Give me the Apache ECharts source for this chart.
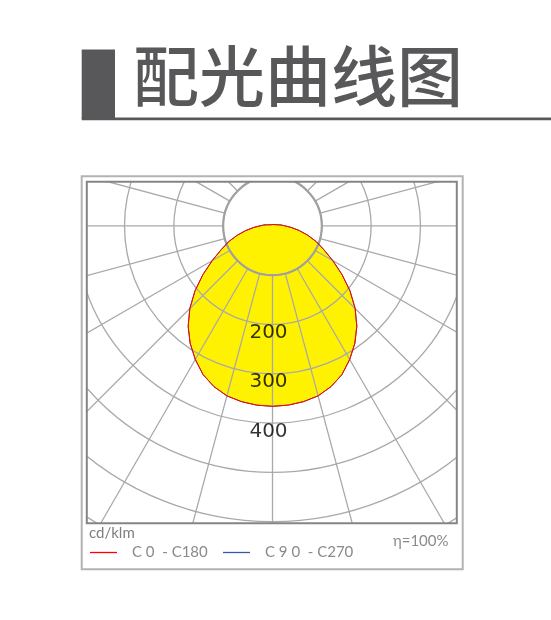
<!DOCTYPE html>
<html>
<head>
<meta charset="utf-8">
<script src="https://cdn.jsdelivr.net/npm/echarts@6/dist/echarts.min.js"></script>
<style>
html,body{margin:0;padding:0;background:#ffffff;}
#chart{width:551px;height:620px;}
</style>
</head>
<body>
<div id="chart"></div>
<script>
// ---- data ----
const gammaAngles = [0,5,10,15,20,25,30,35,40,45,50,55,60,65,70,75,80,85,90,95,100,105,110,115,120,125,130,135,140,145,150,155,160,165,170,175,180];
// luminous intensity, cd/klm, C0-C180 plane
const intensityC0 = [366,365,362,357,347,333,313,291,266,237,205,172,141,115,95,74,55,38,25,18,12,8,6,5,4,4,3,3,3,3,3,3,3,3,3,3,3];
// luminous intensity, cd/klm, C90-C270 plane (coincides with C0-C180)
const intensityC90 = [366,365,362,357,347,333,313,291,266,237,205,172,141,115,95,74,55,38,25,18,12,8,6,5,4,4,3,3,3,3,3,3,3,3,3,3,3];
const ringLabels = [200,300,400];
const seriesNames = ['C 0  - C180', 'C 9 0  - C270'];
const titleText = '配光曲线图';
const unitText = 'cd/klm';
const effText = 'η=100%';

// full loop: left half (C180 / C270) at polar angle gamma, right half (C0 / C90) at 360-gamma
function loop(vals){
  const pts = [];
  for (let i = 0; i < gammaAngles.length; i++) pts.push([vals[i], gammaAngles[i]]);
  for (let i = gammaAngles.length - 2; i >= 0; i--) pts.push([vals[i], 360 - gammaAngles[i]]);
  return pts;
}

const CX = 272.5, CY = 225.8, RMAX = 394.6, RIN = 49.33;
const FL = 86.8, FT = 181.8, FR = 456.8, FB = 523.3;
const gridColor = '#a9a9a9';

const chart = echarts.init(document.getElementById('chart'), null, {renderer:'canvas'});
chart.setOption({
  animation: false,
  backgroundColor: '#ffffff',
  polar: [
    {center:[CX, CY], radius:[RIN, RMAX]},
    {center:[CX, CY], radius:[0, RMAX]}
  ],
  angleAxis: [
    {polarIndex:0, type:'value', min:0, max:360, interval:15, startAngle:270, clockwise:true, z:3,
     axisLine:{show:true, lineStyle:{color:'#a0a0a0', width:2.2}},
     axisTick:{show:false}, axisLabel:{show:false},
     splitLine:{show:true, lineStyle:{color:gridColor, width:1.3}}},
    {polarIndex:1, type:'value', min:0, max:360, startAngle:270, clockwise:true, show:false}
  ],
  radiusAxis: [
    {polarIndex:0, type:'value', min:100, max:800, interval:100, z:3,
     axisLine:{show:false}, axisTick:{show:false}, axisLabel:{show:false},
     splitLine:{show:true, lineStyle:{color:gridColor, width:1.3}}},
    {polarIndex:1, type:'value', min:0, max:800, show:false}
  ],
  legend: [
    {data:[seriesNames[0]], left:90, top:545, padding:0, icon:'rect', itemWidth:27, itemHeight:1.3, z:100,
     textStyle:{color:'#8a8a8a', fontSize:15, fontFamily:'Lato', padding:[0,0,0,10]}},
    {data:[seriesNames[1]], left:223, top:545, padding:0, icon:'rect', itemWidth:27, itemHeight:1.3, z:100,
     textStyle:{color:'#8a8a8a', fontSize:15, fontFamily:'Lato', padding:[0,0,0,10]}}
  ],
  series: [
    {name:'fill', type:'line', coordinateSystem:'polar', polarIndex:1, data:loop(intensityC0),
     symbol:'none', silent:true, z:1, lineStyle:{width:0}, areaStyle:{color:'#fff200', opacity:1}},
    {name:seriesNames[1], type:'line', coordinateSystem:'polar', polarIndex:1, data:loop(intensityC90),
     symbol:'none', z:4, color:'#2e5ca8', lineStyle:{width:1, color:'#2e5ca8'}},
    {name:seriesNames[0], type:'line', coordinateSystem:'polar', polarIndex:1, data:loop(intensityC0),
     symbol:'none', z:5, color:'#ff0000', lineStyle:{width:1, color:'#ff0000'}},
    {name:'ringLabels', type:'scatter', coordinateSystem:'polar', polarIndex:1, z:6, silent:true,
     data:ringLabels.map(v => [v, 0]), symbolSize:0.1, itemStyle:{color:'rgba(0,0,0,0)'},
     label:{show:true, position:'inside', offset:[-4, 8.5], formatter:p => String(p.value[0]),
            fontSize:20, fontFamily:'DejaVu Sans', color:'#000000'}}
  ],
  graphic: [
    // white covers clip the polar grid to the frame
    {type:'rect', z:90, silent:true, shape:{x:0, y:0, width:551, height:FT}, style:{fill:'#ffffff'}},
    {type:'rect', z:90, silent:true, shape:{x:0, y:FB, width:551, height:620-FB}, style:{fill:'#ffffff'}},
    {type:'rect', z:90, silent:true, shape:{x:0, y:0, width:FL, height:620}, style:{fill:'#ffffff'}},
    {type:'rect', z:90, silent:true, shape:{x:FR, y:0, width:551-FR, height:620}, style:{fill:'#ffffff'}},
    // frames
    {type:'rect', z:100, silent:true, shape:{x:FL, y:FT, width:FR-FL, height:FB-FT}, style:{fill:null, stroke:'#858585', lineWidth:2}},
    {type:'rect', z:100, silent:true, shape:{x:81.7, y:176.2, width:381, height:393}, style:{fill:null, stroke:'#b3b3b3', lineWidth:2}},
    // heading
    {type:'rect', z:100, silent:true, shape:{x:81.7, y:49.5, width:33.3, height:69}, style:{fill:'#58585a'}},
    {type:'rect', z:100, silent:true, shape:{x:81.7, y:117.6, width:469.3, height:2.6}, style:{fill:'#58585a'}},
    {type:'text', z:100, silent:true, x:133, y:76, style:{text:titleText, fill:'#58585a',
      font:'500 66px "Noto Sans CJK SC"', textVerticalAlign:'middle', textAlign:'left'}},
    // footer texts
    {type:'text', z:100, silent:true, x:89, y:533, style:{text:unitText, fill:'#7f7f7f',
      font:'15px Lato', textVerticalAlign:'middle', textAlign:'left'}},
    {type:'text', z:100, silent:true, x:448.5, y:541, style:{text:effText, fill:'#8a8a8a',
      font:'15px Lato', textVerticalAlign:'middle', textAlign:'right'}}
  ]
});
</script>
</body>
</html>
